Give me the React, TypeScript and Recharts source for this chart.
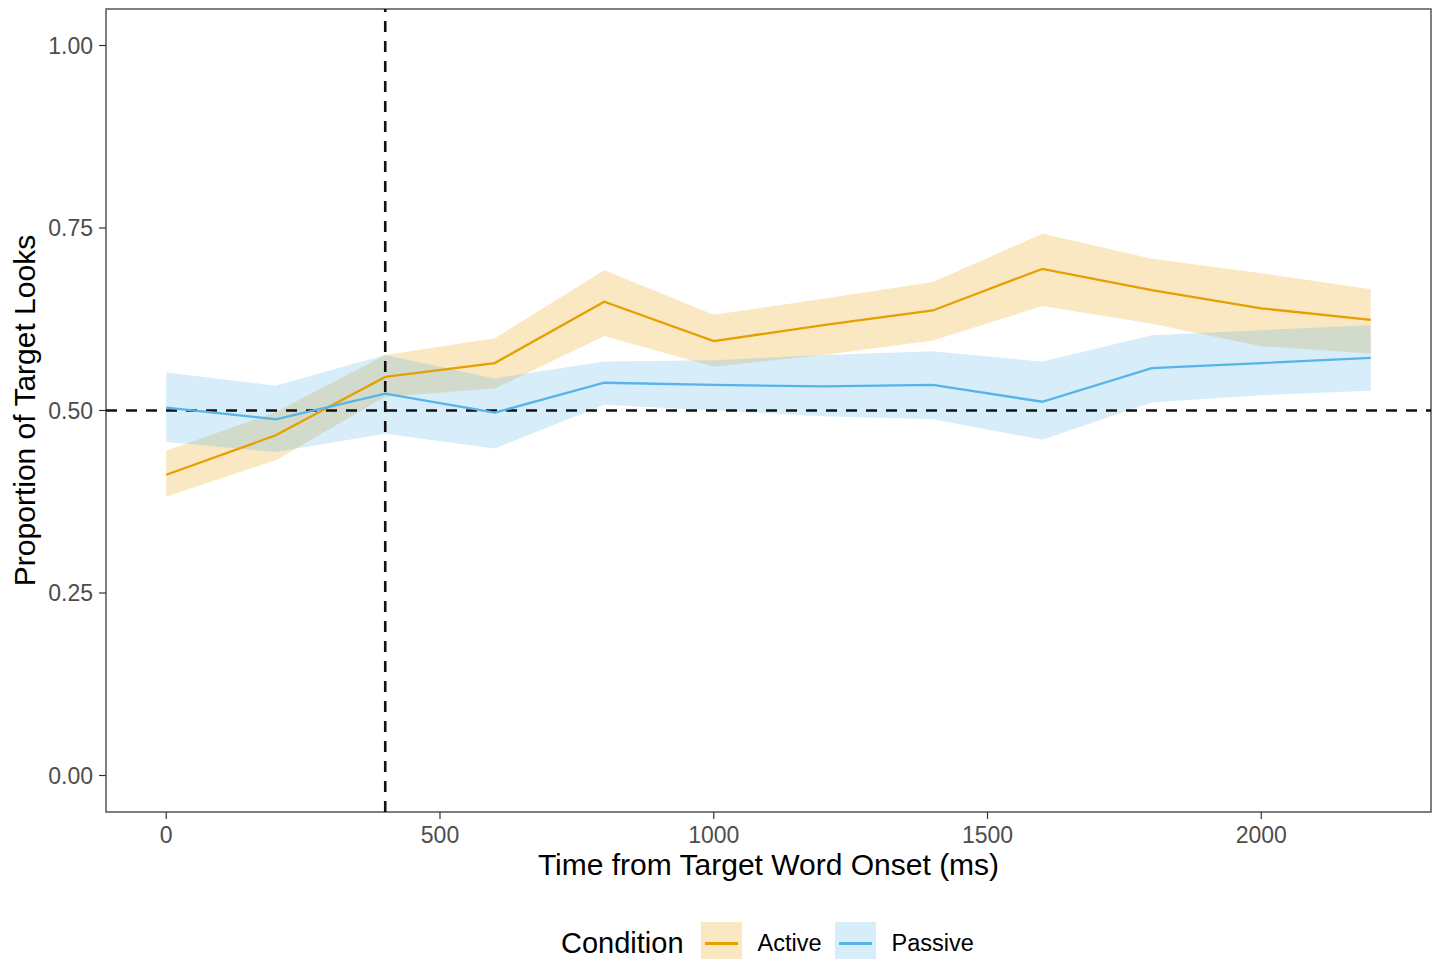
import { ComposedChart, Area, Line, XAxis, YAxis, ReferenceLine, ReferenceArea } from "recharts";

// time bins (ms) and condition means with their ribbons
const times = [0, 200, 400, 600, 800, 1000, 1200, 1400, 1600, 1800, 2000, 2200];
const activeMean = [0.412, 0.466, 0.546, 0.565, 0.649, 0.595, 0.617, 0.637, 0.694, 0.665, 0.64, 0.624];
const activeLower = [0.382, 0.432, 0.519, 0.53, 0.602, 0.56, 0.576, 0.596, 0.643, 0.619, 0.588, 0.578];
const activeUpper = [0.445, 0.498, 0.576, 0.599, 0.692, 0.631, 0.653, 0.676, 0.742, 0.708, 0.688, 0.666];
const passiveMean = [0.504, 0.488, 0.523, 0.497, 0.538, 0.535, 0.533, 0.535, 0.512, 0.558, 0.565, 0.572];
const passiveLower = [0.457, 0.443, 0.468, 0.448, 0.508, 0.5, 0.492, 0.488, 0.46, 0.511, 0.521, 0.527];
const passiveUpper = [0.552, 0.534, 0.576, 0.544, 0.567, 0.569, 0.576, 0.581, 0.567, 0.603, 0.61, 0.617];

const xTicks = [0, 500, 1000, 1500, 2000];
const yTicks = [0, 0.25, 0.5, 0.75, 1];
const conditions = ["Active", "Passive"];

const ACTIVE = "#E69F00";
const PASSIVE = "#56B4E9";
const FONT = "'Liberation Sans', Arial, sans-serif";

const data = times.map((t, i) => ({
  time: t,
  activeMean: activeMean[i],
  activeBand: [activeLower[i], activeUpper[i]],
  passiveMean: passiveMean[i],
  passiveBand: [passiveLower[i], passiveUpper[i]],
}));

function LegendKey({ color }: { color: string }) {
  return (
    <div style={{ width: 41, height: 42, position: "relative", background: "#fff" }}>
      <div style={{ position: "absolute", inset: 0, background: color, opacity: 0.24 }} />
      <div style={{ position: "absolute", left: 4, right: 4, top: 20, height: 2.5, background: color }} />
    </div>
  );
}

export default function App() {
  return (
    <div style={{ position: "fixed", left: 0, top: 0, width: 1436, height: 959, overflow: "hidden", background: "#fff", fontFamily: FONT }}>
      <ComposedChart width={1436} height={959} data={data} margin={{ top: 9, right: 5, bottom: 67, left: 0 }}>
        <XAxis
          dataKey="time"
          type="number"
          domain={[-110, 2310]}
          ticks={xTicks}
          axisLine={false}
          tickLine={{ stroke: "#333", strokeWidth: 1.2 }}
          tickSize={7}
          tickMargin={8}
          height={80}
          tick={{ fill: "#4d4d4d", fontSize: 23, fontFamily: FONT }}
          label={{ value: "Time from Target Word Onset (ms)", position: "insideBottom", offset: 17, style: { fill: "#000", fontSize: 30, fontFamily: FONT } }}
        />
        <YAxis
          type="number"
          domain={[-0.05, 1.05]}
          ticks={yTicks}
          width={106}
          axisLine={false}
          tickLine={{ stroke: "#333", strokeWidth: 1.2 }}
          tickSize={7}
          tickMargin={6}
          tickFormatter={(v: number) => v.toFixed(2)}
          tick={{ fill: "#4d4d4d", fontSize: 23, fontFamily: FONT }}
          label={{ value: "Proportion of Target Looks", angle: -90, position: "insideLeft", offset: 24, style: { textAnchor: "middle", fill: "#000", fontSize: 30, fontFamily: FONT } }}
        />
        <ReferenceLine y={0.5} stroke="#111" strokeWidth={2.6} strokeDasharray="11 9" />
        <ReferenceLine x={400} stroke="#111" strokeWidth={2.6} strokeDasharray="11 9" />
        <Area type="linear" dataKey="activeBand" stroke="none" fill={ACTIVE} fillOpacity={0.24} isAnimationActive={false} dot={false} activeDot={false} />
        <Area type="linear" dataKey="passiveBand" stroke="none" fill={PASSIVE} fillOpacity={0.24} isAnimationActive={false} dot={false} activeDot={false} />
        <Line type="linear" dataKey="activeMean" stroke={ACTIVE} strokeWidth={2.3} dot={false} activeDot={false} isAnimationActive={false} />
        <Line type="linear" dataKey="passiveMean" stroke={PASSIVE} strokeWidth={2.3} dot={false} activeDot={false} isAnimationActive={false} />
        <ReferenceArea x1={-110} x2={2310} y1={-0.05} y2={1.05} fill="none" stroke="#555" strokeWidth={1.5} />
      </ComposedChart>
      <div style={{ position: "absolute", left: 561, top: 922, display: "flex", alignItems: "flex-start" }}>
        <div style={{ fontSize: 29, lineHeight: "42px", color: "#000", marginRight: 17 }}>Condition</div>
        {conditions.map((c, i) => (
          <div key={c} style={{ display: "flex", alignItems: "flex-start", marginRight: 13 }}>
            <LegendKey color={i === 0 ? ACTIVE : PASSIVE} />
            <div style={{ fontSize: 23.5, lineHeight: "42px", color: "#000", marginLeft: 16 }}>{c}</div>
          </div>
        ))}
      </div>
    </div>
  );
}
